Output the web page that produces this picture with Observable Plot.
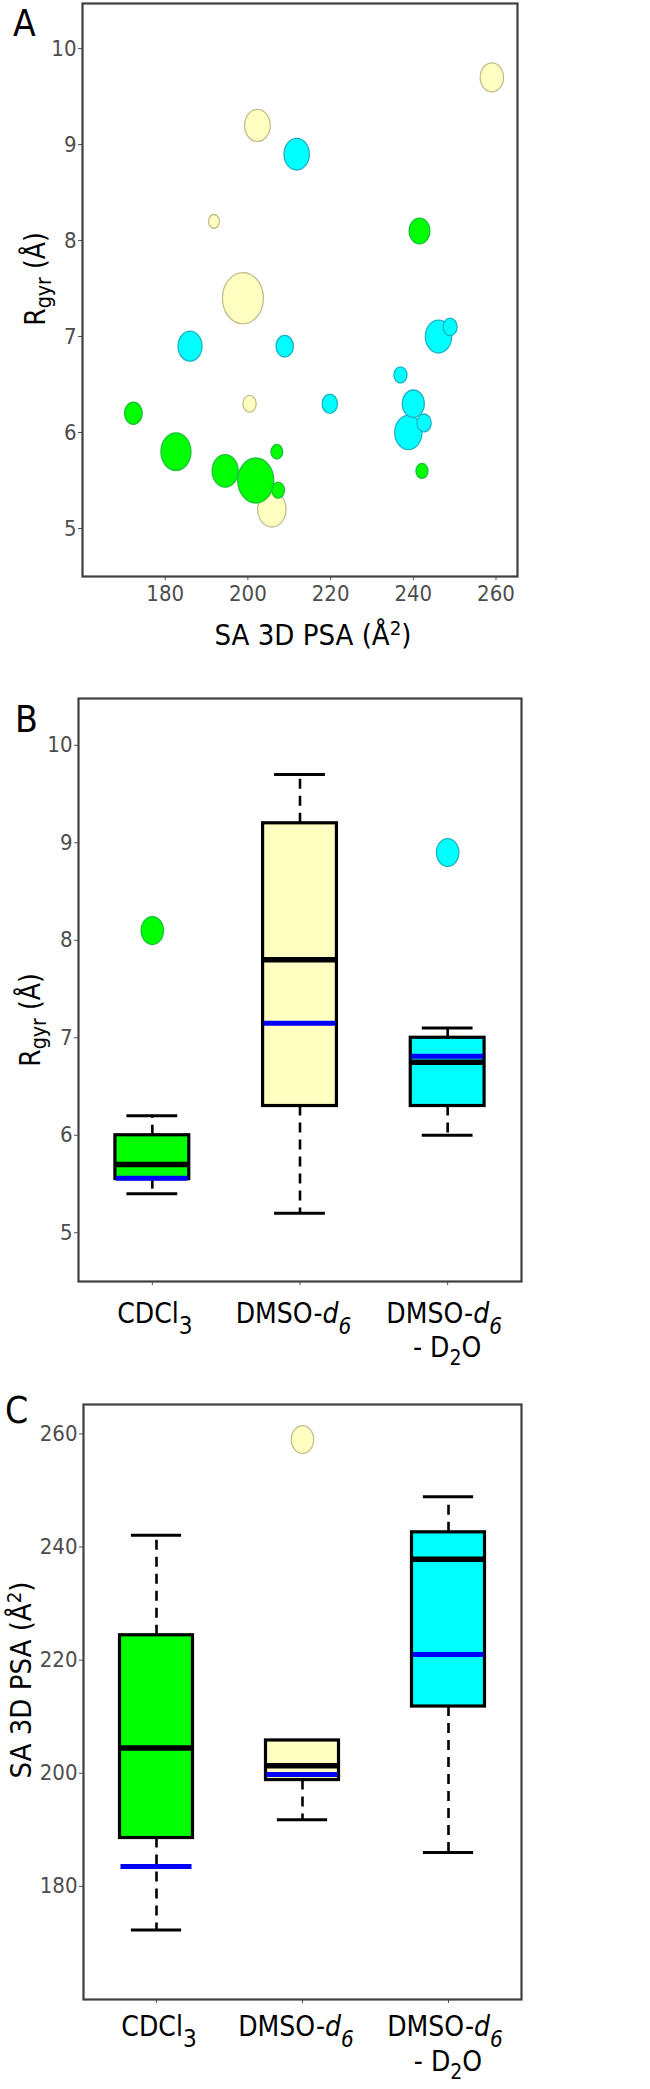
<!DOCTYPE html>
<html>
<head>
<meta charset="utf-8">
<script src="https://cdn.jsdelivr.net/npm/d3@7"></script>
<script src="https://cdn.jsdelivr.net/npm/@observablehq/plot@0.6"></script>
<style>
  html, body { margin: 0; padding: 0; background: #fff; }
  #wrap { width: 650px; }
  #wrap svg { display: block; }
</style>
</head>
<body>
<div id="wrap"></div>
<script>
// ---------- data ----------
const solvents = ["CDCl3", "DMSO-d6", "DMSO-d6 - D2O"];
const fills   = ["#00ff00", "#ffffc2", "#00ffff"];
const strokes = ["#1cc23a", "#c2bd8c", "#1bb4c4"];

// CDCl3
const psaCDCl3  = [241.5, 172.3, 182.6, 194.5, 201.9, 207.0, 207.3, 242.1];
const rgyrCDCl3 = [8.1, 6.2, 5.8, 5.6, 5.5, 5.8, 5.4, 5.6];
const sizeCDCl3 = [20.7, 17.7, 30, 26, 36, 11.7, 12.7, 12];
// DMSO-d6
const psaDMSO  = [259.0, 202.3, 191.8, 198.8, 200.4, 205.8];
const rgyrDMSO = [9.7, 9.2, 8.2, 7.4, 6.3, 5.2];
const sizeDMSO = [23.3, 25.7, 11, 41, 13.3, 28.3];
// DMSO-d6 - D2O
const psaD2O  = [211.8, 186.0, 208.9, 246.1, 248.9, 236.9, 219.8, 240.0, 242.6, 238.8];
const rgyrD2O = [8.9, 6.9, 6.9, 7.0, 7.1, 6.6, 6.3, 6.3, 6.1, 6.0];
const sizeD2O = [25.3, 24, 17.3, 26.3, 14, 13, 15.3, 22, 14.3, 27.3];

// blue reference lines (per solvent)
const refRgyr = [5.56, 7.15, 6.81];
const refPSA  = [183.5, 199.8, 221.0];

const rgyrTicks = [5, 6, 7, 8, 9, 10];
const psaTicks  = [180, 200, 220, 240, 260];

// ---------- helpers ----------
const groups = [
  {i: 0, psa: psaCDCl3, rgyr: rgyrCDCl3, size: sizeCDCl3},
  {i: 1, psa: psaDMSO,  rgyr: rgyrDMSO,  size: sizeDMSO},
  {i: 2, psa: psaD2O,   rgyr: rgyrD2O,   size: sizeD2O}
];

// ellipse symbol (the figure is drawn with a vertical stretch)
const ellipse = {
  draw(ctx, size) {
    const rx = Math.sqrt(size / Math.PI), ry = rx * 1.25, k = 0.5523;
    ctx.moveTo(rx, 0);
    ctx.bezierCurveTo(rx, k * ry, k * rx, ry, 0, ry);
    ctx.bezierCurveTo(-k * rx, ry, -rx, k * ry, -rx, 0);
    ctx.bezierCurveTo(-rx, -k * ry, -k * rx, -ry, 0, -ry);
    ctx.bezierCurveTo(k * rx, -ry, rx, -k * ry, rx, 0);
    ctx.closePath();
  }
};

// Tukey five-number summary (R boxplot hinges)
function fivenum(v) {
  const s = v.slice().sort(d3.ascending), n = s.length;
  const n4 = Math.floor((n + 3) / 2) / 2;
  return [1, n4, (n + 1) / 2, n + 1 - n4, n].map(k => 0.5 * (s[Math.floor(k) - 1] + s[Math.ceil(k) - 1]));
}
function boxStats(key, ref) {
  return groups.map(g => {
    const v = g[key];
    const [, q1, med, q3] = fivenum(v);
    const iqr = q3 - q1;
    const inside = v.filter(d => d >= q1 - 1.5 * iqr && d <= q3 + 1.5 * iqr);
    return {
      i: g.i, q1, med, q3,
      lo: d3.min(inside), hi: d3.max(inside),
      ref: ref[g.i],
      outliers: v.filter(d => d < q1 - 1.5 * iqr || d > q3 + 1.5 * iqr)
    };
  });
}

const baseStyle = {
  fontFamily: "'DejaVu Sans Condensed', 'DejaVu Sans', sans-serif",
  fontStretch: "condensed",
  fontSize: "22px",
  color: "#4d4d4d",
  background: "#fff",
  overflow: "visible"
};
const intFmt = d => String(d);

function richText(svg, x, y, segs, o) {
  const size = o.size;
  const t = d3.select(svg).append("text")
    .attr("x", x).attr("y", y)
    .attr("text-anchor", o.anchor || "middle")
    .attr("font-family", "'DejaVu Sans', sans-serif")
    .attr("font-size", size)
    .attr("fill", "#000");
  if (o.rotate) t.attr("transform", `rotate(${o.rotate} ${x} ${y})`);
  let shift = 0;
  for (const s of segs) {
    const ts = t.append("tspan").text(s.t);
    const target = s.sub ? size * (s.sh ?? 0.3) : s.sup ? -size * 0.36 : 0;
    if (target !== shift) { ts.attr("dy", target - shift); shift = target; }
    if (s.sub || s.sup) ts.attr("font-size", size * (s.sc ?? 0.7));
    if (s.it) ts.attr("font-style", "italic");
  }
  return t;
}

const wrap = document.getElementById("wrap");

// ---------- Panel A ----------
const dotOrder = [1, 0, 2];
const scatterMarks = dotOrder.map(gi => {
  const g = groups[gi];
  const pts = g.psa.map((p, j) => ({psa: p, rgyr: g.rgyr[j], size: g.size[j]}))
    .sort((a, b) => b.size - a.size);
  return Plot.dot(pts, {
    x: "psa", y: "rgyr", r: "size", symbol: ellipse,
    fill: fills[gi], stroke: strokes[gi], strokeWidth: 1.3
  });
});

const svgA = Plot.plot({
  width: 650, height: 690,
  marginLeft: 82, marginRight: 133, marginTop: 3, marginBottom: 114,
  style: baseStyle,
  x: {domain: [160, 265.2]},
  y: {domain: [4.5, 10.47]},
  r: {type: "linear", domain: [0, 40], range: [0, 20]},
  marks: [
    ...scatterMarks,
    Plot.axisX(psaTicks, {tickSize: 4, tickPadding: 5, tickFormat: intFmt, label: null}),
    Plot.axisY(rgyrTicks, {tickSize: 4, tickPadding: 2, tickFormat: intFmt, label: null}),
    Plot.frame({stroke: "#404040", strokeWidth: 2.2})
  ]
});
wrap.appendChild(svgA);
richText(svgA, 13, 36, [{t: "A"}], {size: 37, anchor: "start"});
richText(svgA, 313, 645, [{t: "SA 3D PSA (Å"}, {t: "2", sup: true}, {t: ")"}], {size: 29});
richText(svgA, 45, 279, [{t: "R"}, {t: "gyr", sub: true, sh: 0.22, sc: 0.76}, {t: " (Å)"}], {size: 28, rotate: -90});

// ---------- Box panels ----------
function boxPanel({height, marginTop, marginBottom, marginLeft, yDomain, ticks, stats}) {
  const outs = stats.flatMap(s => s.outliers.map(v => ({i: s.i, v})));
  const W = 0.25, C = 0.172;
  return Plot.plot({
    width: 650, height,
    marginLeft, marginRight: 129, marginTop, marginBottom,
    style: baseStyle,
    x: {domain: [-0.5, 2.5]},
    y: {domain: yDomain},
    marks: [
      // whiskers (dashed)
      Plot.ruleX(stats.filter(s => s.hi > s.q3), {x: "i", y1: "q3", y2: "hi", stroke: "#000", strokeWidth: 2.6, strokeDasharray: "10,7"}),
      Plot.ruleX(stats.filter(s => s.lo < s.q1), {x: "i", y1: "q1", y2: "lo", stroke: "#000", strokeWidth: 2.6, strokeDasharray: "10,7"}),
      // staples
      Plot.ruleY(stats.filter(s => s.hi > s.q3), {y: "hi", x1: d => d.i - C, x2: d => d.i + C, stroke: "#000", strokeWidth: 3}),
      Plot.ruleY(stats.filter(s => s.lo < s.q1), {y: "lo", x1: d => d.i - C, x2: d => d.i + C, stroke: "#000", strokeWidth: 3}),
      // boxes
      Plot.rect(stats, {x1: d => d.i - W, x2: d => d.i + W, y1: "q1", y2: "q3", fill: d => fills[d.i], stroke: "#000", strokeWidth: 3.2}),
      // medians
      Plot.ruleY(stats, {y: "med", x1: d => d.i - W, x2: d => d.i + W, stroke: "#000", strokeWidth: 5.5}),
      // blue reference lines
      Plot.ruleY(stats, {y: "ref", x1: d => d.i - W + 1/150, x2: d => d.i + W - 1/150, stroke: "#0000ff", strokeWidth: 5}),
      // outliers
      Plot.dot(outs, {x: "i", y: "v", r: 11.2, symbol: ellipse, fill: d => fills[d.i], stroke: d => strokes[d.i], strokeWidth: 1.3}),
      Plot.axisX([0, 1, 2], {tickSize: 4, tickFormat: () => "", label: null}),
      Plot.axisY(ticks, {tickSize: 4, tickPadding: 2, tickFormat: intFmt, label: null}),
      Plot.frame({stroke: "#404040", strokeWidth: 2.2})
    ]
  });
}

function categoryLabels(svg, line1, line2) {
  const xs = svg.scale("x");
  const cx = i => xs.apply(i);
  const fs = 28;
  richText(svg, cx(0) + 3, line1, [{t: "CDCl"}, {t: "3", sub: true, sh: 0.4, sc: 0.86}], {size: fs});
  richText(svg, cx(1) - 6, line1, [{t: "DMSO-"}, {t: "d", it: true}, {t: "6", sub: true, it: true, sh: 0.4, sc: 0.8}], {size: fs});
  richText(svg, cx(2) - 3, line1, [{t: "DMSO-"}, {t: "d", it: true}, {t: "6", sub: true, it: true, sh: 0.4, sc: 0.8}], {size: fs});
  richText(svg, cx(2), line2, [{t: "- D"}, {t: "2", sub: true, sh: 0.3, sc: 0.75}, {t: "O"}], {size: fs});
}

// Panel B
const svgB = boxPanel({
  height: 700, marginTop: 8, marginBottom: 109, marginLeft: 78,
  yDomain: [4.5, 10.48], ticks: rgyrTicks, stats: boxStats("rgyr", refRgyr)
});
wrap.appendChild(svgB);
richText(svgB, 15, 42, [{t: "B"}], {size: 37, anchor: "start"});
richText(svgB, 40, 330, [{t: "R"}, {t: "gyr", sub: true, sh: 0.22, sc: 0.76}, {t: " (Å)"}], {size: 28, rotate: -90});
categoryLabels(svgB, 633, 667);

// Panel C
const svgC = boxPanel({
  height: 699, marginTop: 14, marginBottom: 90, marginLeft: 83,
  yDomain: [160, 265.2], ticks: psaTicks, stats: boxStats("psa", refPSA)
});
wrap.appendChild(svgC);
richText(svgC, 5, 33, [{t: "C"}], {size: 37, anchor: "start"});
richText(svgC, 31, 290, [{t: "SA 3D PSA (Å"}, {t: "2", sup: true}, {t: ")"}], {size: 29, rotate: -90});
categoryLabels(svgC, 646, 681);
</script>
</body>
</html>
